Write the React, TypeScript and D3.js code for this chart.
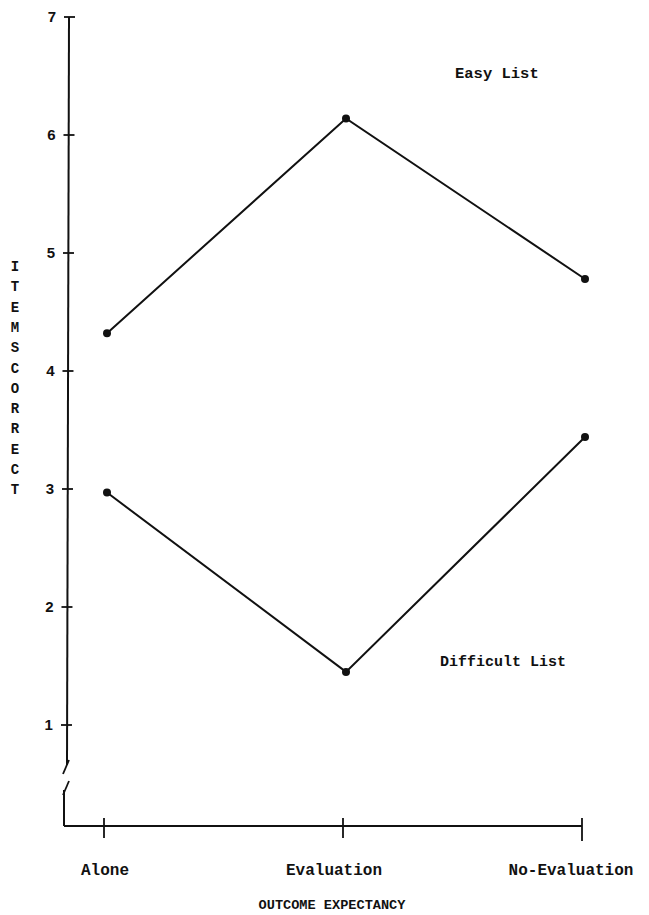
import React from "react";
import * as d3 from "d3";

const categories = ["Alone", "Evaluation", "No-Evaluation"];
const easyValues = [4.32, 6.14, 4.78];
const difficultValues = [2.97, 1.45, 3.44];
const yTicks = [1, 2, 3, 4, 5, 6, 7];
const yLabelLetters = ["I", "T", "E", "M", "S", "C", "O", "R", "R", "E", "C", "T"];
const seriesLabels = ["Easy List", "Difficult List"];
const xTitle = "OUTCOME EXPECTANCY";

export default function App() {
  const W = 649, H = 915;
  const axisX = 69;
  const y = d3.scaleLinear().domain([1, 7]).range([725, 17]);
  const x = d3.scalePoint<string>().domain(categories).range([107, 585]);
  const xAxisY = 826;
  const line = d3.line<number>().x((_, i) => x(categories[i])!).y((v) => y(v));
  const mono = "'Liberation Mono', 'DejaVu Sans Mono', monospace";
  const sans = "'Liberation Sans', Arial, sans-serif";
  const stroke = "#111";
  return (
    <svg width={W} height={H} style={{ position: "absolute", left: 0, top: 0, background: "#fff" }}>
      {/* y axis upper */}
      <line x1={axisX} y1={y(7)} x2={axisX - 2} y2={765} stroke={stroke} strokeWidth={2} />
      {/* break slashes */}
      <line x1={axisX - 6} y1={774} x2={axisX} y2={760} stroke={stroke} strokeWidth={1.8} />
      <line x1={axisX} y1={781} x2={axisX - 6} y2={795} stroke={stroke} strokeWidth={1.8} />
      {/* y axis lower */}
      <line x1={axisX - 5} y1={790} x2={axisX - 5} y2={xAxisY} stroke={stroke} strokeWidth={2} />
      {/* x axis */}
      <line x1={axisX - 5} y1={xAxisY} x2={582} y2={xAxisY} stroke={stroke} strokeWidth={2} />
      {categories.map((c, i) => (
        <line key={c} x1={x(c)! - 3} y1={xAxisY - 8} x2={x(c)! - 3} y2={xAxisY + (i === 2 ? 15 : 12)} stroke={stroke} strokeWidth={1.8} />
      ))}
      {yTicks.map((t) => {
        const yy = y(t);
        const ax = axisX - (yy - 17) * (3 / 700);
        return (
          <g key={t}>
            <line x1={ax - 5} y1={yy} x2={ax + 6} y2={yy} stroke={stroke} strokeWidth={1.8} />
            <text x={ax - 13} y={yy + 5} textAnchor="end" fontFamily={sans} fontWeight="bold" fontSize={15} fill={stroke}>{t}</text>
          </g>
        );
      })}
      {/* y label */}
      {yLabelLetters.map((l, i) => (
        <text key={i} x={15} y={271 + i * 20.3} textAnchor="middle" fontFamily={mono} fontWeight="bold" fontSize={14} fill={stroke}>{l}</text>
      ))}
      {/* series lines */}
      {[easyValues, difficultValues].map((vals, si) => (
        <g key={si}>
          <path d={line(vals)!} fill="none" stroke={stroke} strokeWidth={2} />
          {vals.map((v, i) => (
            <circle key={i} cx={x(categories[i])!} cy={y(v)} r={4} fill={stroke} />
          ))}
        </g>
      ))}
      <text x={455} y={78} fontFamily={mono} fontWeight="bold" fontSize={15.5} fill={stroke}>{seriesLabels[0]}</text>
      <text x={440} y={666} fontFamily={mono} fontWeight="bold" fontSize={15} fill={stroke}>{seriesLabels[1]}</text>
      {categories.map((c, i) => (
        <text key={c} x={[105, 334, 571][i]} y={875} textAnchor="middle" fontFamily={mono} fontWeight="bold" fontSize={16} fill={stroke}>{c}</text>
      ))}
      <text x={332} y={909} textAnchor="middle" fontFamily={mono} fontWeight="bold" fontSize={13.6} fill={stroke}>{xTitle}</text>
    </svg>
  );
}
